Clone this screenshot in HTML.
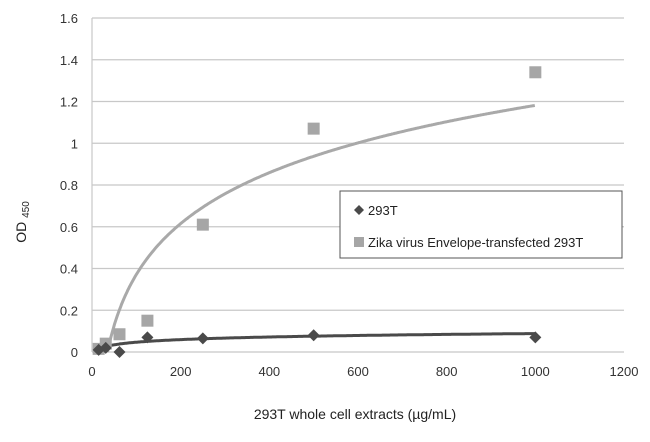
<!DOCTYPE html>
<html><head><meta charset="utf-8"><style>
body{margin:0;background:#fff;}
svg{display:block;font-family:"Liberation Sans",sans-serif;}
</style></head><body>
<svg id="chart" width="650" height="442"></svg>
<script>
const xTicks=[0,200,400,600,800,1000,1200];
const yTicks=[0,0.2,0.4,0.6,0.8,1,1.2,1.4,1.6];
const yTickLabels=["0","0.2","0.4","0.6","0.8","1","1.2","1.4","1.6"];
const xVals=[15,31,62,125,250,500,1000];
const cellVals=[0.01,0.02,0.0,0.07,0.065,0.08,0.07];
const zikaVals=[0.015,0.04,0.085,0.15,0.61,1.07,1.34];
const cellFit=[0.018,-0.036];
const zikaFit=[0.352,-1.25];
const NS="http://www.w3.org/2000/svg";
const svg=document.getElementById('chart');
const X0=92,X1=624,Y0=352,Y1=18;
const sx=v=>X0+(v/1200)*(X1-X0);
const sy=v=>Y0-(v/1.6)*(Y0-Y1);
function mk(t,a,p){const e=document.createElementNS(NS,t);for(const k in a)e.setAttribute(k,a[k]);(p||svg).appendChild(e);return e;}
yTicks.forEach((t,i)=>{
 const g=mk('line',{x1:X0,x2:X1,y1:sy(t),y2:sy(t),stroke:'#c8c8c8','stroke-width':1.2});
 
 
 const l=mk('text',{x:X0-14,y:sy(t)+5,'text-anchor':'end','font-size':13,fill:'#333'});
 l.textContent=yTickLabels[i];
 
 
});
const ax=mk('line',{x1:X0,x2:X0,y1:Y1,y2:Y0,stroke:'#c8c8c8','stroke-width':1.2});


xTicks.forEach(t=>{
 const l=mk('text',{x:sx(t),y:Y0+24,'text-anchor':'middle','font-size':13,fill:'#333'});
 l.textContent=t;
 
 
});
function fitPath(f,col,name){
 let d='';const xs0=Math.exp((0-f[1])/f[0]);
 for(let x=Math.max(xs0,15);x<=1000;x+=2){d+=(d?'L':'M')+sx(x).toFixed(1)+','+sy(f[0]*Math.log(x)+f[1]).toFixed(1);}
 const p=mk('path',{d:d,fill:'none',stroke:col,'stroke-width':3});
 
 
}
fitPath(zikaFit,'#a9a9a9','zika-trendline');
fitPath(cellFit,'#4a4a4a','293t-trendline');
xVals.forEach((x,i)=>{
 const r=mk('rect',{x:sx(x)-6,y:sy(zikaVals[i])-6,width:12,height:12,fill:'#a6a6a6'});
 
 
});
xVals.forEach((x,i)=>{
 const cx=sx(x),cy=sy(cellVals[i]);
 const p=mk('polygon',{points:`${cx},${cy-6} ${cx+6},${cy} ${cx},${cy+6} ${cx-6},${cy}`,fill:'#4a4a4a'});
 
 
});
</script>
<svg style="position:absolute;left:0;top:0" width="650" height="442">
<text x="26" y="222" transform="rotate(-90 26 222)" text-anchor="middle" font-size="14" fill="#222">OD <tspan font-size="10" dy="3">450</tspan></text>
<text x="355" y="419" text-anchor="middle" font-size="14" fill="#222">293T whole cell extracts (µg/mL)</text>
<g>
<rect x="340" y="191" width="282" height="67" fill="#fff" stroke="#555" stroke-width="1"/>
<polygon points="359,205 364,210 359,215 354,210" fill="#4a4a4a"/>
<text x="368" y="215" font-size="13" fill="#222">293T</text>
<rect x="354" y="237" width="10" height="10" fill="#a6a6a6"/>
<text x="368" y="247" font-size="13" fill="#222">Zika virus Envelope-transfected 293T</text>
</g>
</svg>
</body></html>
